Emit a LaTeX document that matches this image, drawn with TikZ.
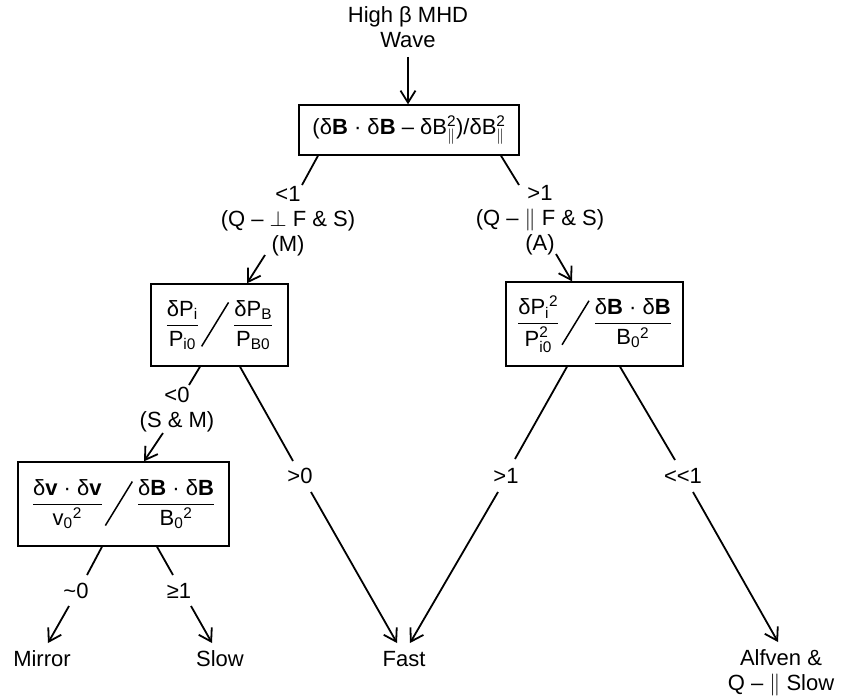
\RequirePackage{fix-cm}
\documentclass[tikz,border=0pt]{standalone}
\usepackage{amsmath}
\usepackage{graphicx}
\usepackage{fontspec}
\setmainfont{Liberation Sans}
\usetikzlibrary{arrows.meta}
\newcommand\Sl{\hspace{2pt}\raisebox{-15pt}{\rotatebox{-31.5}{\rule{1.5pt}{51.6pt}}}\hspace{4pt}}
\newcommand\T[1]{\text{#1}}
\begin{document}
\begin{tikzpicture}[x=1pt,y=-1pt,
  every node/.style={font=\fontsize{22}{25}\selectfont, inner sep=0pt},
  bx/.style={draw, line width=1.4pt, inner sep=0pt},
  lbl/.style={align=center},
  edge/.style={line width=1.8pt},
  arr/.style={line width=1.8pt, -{Straight Barb[length=12pt,width=15pt,line width=1.8pt]}},
  endlbl/.style={align=center, text height=16pt, text depth=0pt}]
\useasboundingbox (0,0) rectangle (841,697);

% title and boxes
\node[lbl] (title) at (408,27) {High β MHD\\Wave};
\node[bx, minimum width=220pt, minimum height=50pt] (b1) at (409,130)
  {(δ\textbf{B} · δ\textbf{B} – δB$^{\T{2}}_{\|}$)/δB$^{\T{2}}_{\|}$};
\node[bx, minimum width=137pt, minimum height=82pt] (b2) at (219.5,325)
  {$\dfrac{\T{δP}_{\T{i}}}{\T{P}_{\T{i0}}}$\Sl$\dfrac{\T{δP}_{\T{B}}}{\T{P}_{\T{B0}}}$};
\node[bx, minimum width=177pt, minimum height=84pt] (b3) at (594.5,324)
  {$\dfrac{\T{δP}_{\T{i}}{}^{\T{2}}}{\T{P}^{\T{2}}_{\T{i0}}}$\Sl$\dfrac{\T{δ\textbf{B} · δ\textbf{B}}}{\T{B}_{\T{0}}{}^{\T{2}}}$};
\node[bx, minimum width=211pt, minimum height=84pt] (b4) at (123.5,504)
  {$\dfrac{\T{δ\textbf{v} · δ\textbf{v}}}{\T{v}_{\T{0}}{}^{\T{2}}}$\Sl$\dfrac{\T{δ\textbf{B} · δ\textbf{B}}}{\T{B}_{\T{0}}{}^{\T{2}}}$};

% branch labels
\node[lbl] (l1) at (288,221) {<1\\(Q – $\perp$ F \& S)\\(M)};
\node[lbl] (r1) at (540,220) {>1\\(Q – $\|$ F \& S)\\(A)};
\node[lbl] (l2) at (177,410) {<0\\(S \& M)};
\node[lbl] (g0) at (300,476) {>0};
\node[lbl] (g1) at (506,476) {>1};
\node[lbl] (ll1) at (683,476) {<{}<1};
\node[lbl] (t0) at (76,591) {\char`~0};
\node[lbl] (ge1) at (179,591) {≥1};

% end labels
\node[endlbl] (mirror) at (42,658) {Mirror};
\node[endlbl] (slow) at (220,658) {Slow};
\node[endlbl] (fast) at (404,658) {Fast};
\node[endlbl] (alf) at (781,682.5) {Alfven \&\\Q – $\|$ Slow};

% free ends of connectors
\coordinate (p1) at (302,185);  \coordinate (q1) at (265,255);
\coordinate (p2) at (519,185);  \coordinate (q2) at (556,254);
\coordinate (p3) at (189,385);  \coordinate (q3) at (163,433);
\coordinate (p4) at (293,461);  \coordinate (q4) at (311,492);
\coordinate (p5) at (515,459);  \coordinate (q5) at (498,492);
\coordinate (p6) at (675,460);  \coordinate (q6) at (693,492);
\coordinate (p7) at (87,575);   \coordinate (q7) at (69,606);
\coordinate (p8) at (173,575);  \coordinate (q8) at (191,606);
\coordinate (e4) at (397,643);  \coordinate (e5) at (410,643);
\coordinate (e6) at (778,642);  \coordinate (e7) at (48,643);
\coordinate (e8) at (212,643);

% connectors
\draw[arr] ([yshift=-9pt]title.south) -- ([xshift=-1pt]b1.north);
\draw[edge] ([xshift=-91pt]b1.south) -- (p1);
\draw[arr] (q1) -- ([xshift=27.5pt]b2.north);
\draw[edge] ([xshift=92pt]b1.south) -- (p2);
\draw[arr] (q2) -- ([xshift=-22.5pt]b3.north);

\draw[edge] ([xshift=-19.5pt]b2.south) -- (p3);
\draw[arr] (q3) -- ([xshift=20.5pt]b4.north);
\draw[edge] ([xshift=20.5pt]b2.south) -- (p4);
\draw[arr] (q4) -- (e4);

\draw[edge] ([xshift=-27.5pt]b3.south) -- (p5);
\draw[arr] (q5) -- (e5);
\draw[edge] ([xshift=25.5pt]b3.south) -- (p6);
\draw[arr] (q6) -- (e6);

\draw[edge] ([xshift=-21.5pt]b4.south) -- (p7);
\draw[arr] (q7) -- (e7);
\draw[edge] ([xshift=33.5pt]b4.south) -- (p8);
\draw[arr] (q8) -- (e8);
\end{tikzpicture}
\end{document}
